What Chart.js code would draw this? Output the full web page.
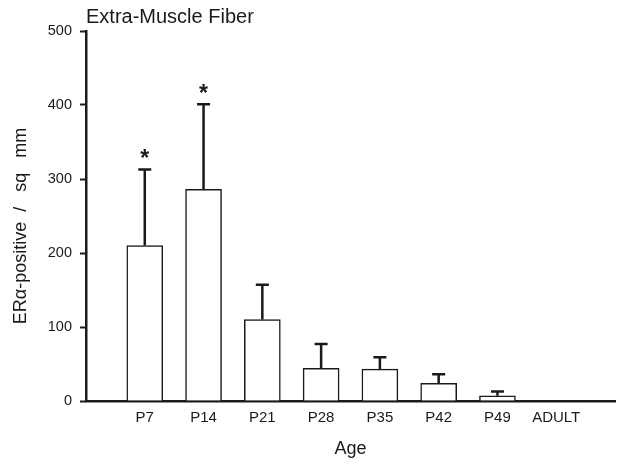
<!DOCTYPE html>
<html>
<head>
<meta charset="utf-8">
<script src="https://cdn.jsdelivr.net/npm/chart.js@4.4.1/dist/chart.umd.min.js"></script>
<style>
    html, body { margin: 0; padding: 0; background: #fff; }
    #wrap { width: 624px; height: 467px; }
</style>
</head>
<body>
<div id="wrap"><canvas id="erChart" width="624" height="467"></canvas></div>
<script>
var ages = ['P7', 'P14', 'P21', 'P28', 'P35', 'P42', 'P49', 'ADULT'];
var means = [210, 286, 110, 44, 43, 24, 7, 0];
var errors = [103, 115, 47, 33, 16, 12, 6, 0];
var marks = ['*', '*', '', '', '', '', '', ''];
var yTicks = [0, 100, 200, 300, 400, 500];

var INK = '#1a1a1a';
var FONT = "'Liberation Sans', Arial, sans-serif";

// empty slot on each side so P7 sits one step right of the y axis
var labels = [''].concat(ages, ['']);
var values = [null].concat(means, [null]);
var errs = [null].concat(errors, [null]);
var stars = [''].concat(marks, ['']);

var errorBarPlugin = {
    id: 'errorBars',
    afterDatasetsDraw: function(chart) {
        var ctx = chart.ctx;
        var yScale = chart.scales.y;
        var meta = chart.getDatasetMeta(0);
        ctx.save();
        ctx.strokeStyle = INK;
        ctx.fillStyle = INK;
        meta.data.forEach(function(bar, i) {
            if (values[i] === null || !errs[i]) return;
            var top = yScale.getPixelForValue(values[i] + errs[i]);
            ctx.lineWidth = 2.5;
            ctx.beginPath();
            ctx.moveTo(bar.x, bar.y);
            ctx.lineTo(bar.x, top);
            ctx.moveTo(bar.x - 6.5, top);
            ctx.lineTo(bar.x + 6.5, top);
            ctx.stroke();
            if (stars[i]) {
                ctx.font = 'bold 23px ' + FONT;
                ctx.textAlign = 'center';
                ctx.textBaseline = 'alphabetic';
                ctx.fillText(stars[i], bar.x, top - 3);
            }
        });
        ctx.restore();
    }
};

var headingPlugin = {
    id: 'heading',
    afterDraw: function(chart) {
        var ctx = chart.ctx;
        ctx.save();
        ctx.fillStyle = INK;
        ctx.font = '20px ' + FONT;
        ctx.textAlign = 'left';
        ctx.textBaseline = 'alphabetic';
        ctx.fillText('Extra-Muscle Fiber', chart.chartArea.left, 23);
        ctx.restore();
    }
};

new Chart(document.getElementById('erChart'), {
    type: 'bar',
    data: {
        labels: labels,
        datasets: [{
            data: values,
            backgroundColor: '#ffffff',
            borderColor: INK,
            borderWidth: 1.5,
            barThickness: 36
        }]
    },
    options: {
        responsive: false,
        animation: false,
        layout: { padding: { left: 0, top: 31, right: 9, bottom: 0 } },
        plugins: {
            legend: { display: false },
            tooltip: { enabled: false }
        },
        scales: {
            x: {
                offset: false,
                grid: { display: false, drawTicks: false },
                border: { display: true, color: INK, width: 2.5 },
                ticks: {
                    color: INK,
                    font: { family: FONT, size: 15 },
                    padding: 8,
                    autoSkip: false,
                    maxRotation: 0
                },
                title: {
                    display: true,
                    text: 'Age',
                    color: INK,
                    font: { family: FONT, size: 18 },
                    padding: { top: 0, bottom: 7 }
                },
                afterFit: function(scale) { scale.height = 66; }
            },
            y: {
                min: 0,
                max: 500,
                afterBuildTicks: function(scale) {
                    scale.ticks = yTicks.map(function(v) { return { value: v }; });
                },
                grid: {
                    drawOnChartArea: false,
                    drawTicks: true,
                    tickLength: 6,
                    tickWidth: 2,
                    color: INK
                },
                border: { display: true, color: INK, width: 2.5 },
                ticks: {
                    color: INK,
                    font: { family: FONT, size: 14.5 },
                    padding: 8
                },
                title: {
                    display: true,
                    // trailing spaces nudge the label a little below the axis centre, as in the figure
                    text: 'ERα-positive  /   sq   mm    ',
                    color: INK,
                    font: { family: FONT, size: 18 },
                    padding: { top: 10, bottom: 0 }
                },
                afterFit: function(scale) { scale.width = 86; }
            }
        }
    },
    plugins: [errorBarPlugin, headingPlugin]
});
</script>
</body>
</html>
